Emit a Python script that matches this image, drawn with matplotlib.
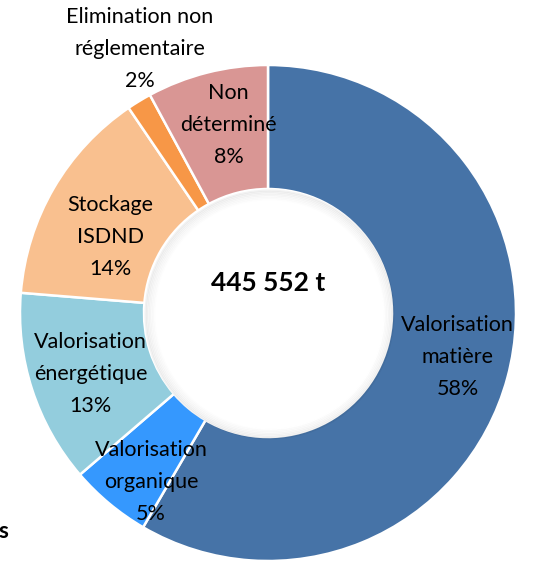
import matplotlib.pyplot as plt
import numpy as np

plt.rcParams['font.family'] = ['Lato', 'DejaVu Sans']

categories = ['Valorisation\nmatière', 'Valorisation\norganique', 'Valorisation\nénergétique',
              'Stockage\nISDND', 'Elimination non\nréglementaire', 'Non\ndéterminé']
shares = [58.4, 5.3, 12.6, 14.2, 1.6, 7.9]
colors = ['#4673A7', '#3598FE', '#93CDDD', '#F9C08F', '#F79747', '#D99694']
total_label = '445 552 t'

W, H = 533, 566
cx, cy, R = 268, 313, 248  # pixel centre / radius of the ring

fig = plt.figure(figsize=(W / 100, H / 100), dpi=100)
ax = fig.add_axes([0, 0, 1, 1])

wedges, _ = ax.pie(shares, colors=colors, startangle=90, counterclock=False,
                   radius=1, wedgeprops=dict(width=0.5, edgecolor='white', linewidth=1.8))
# pie() resets the limits, so set them afterwards
ax.set_xlim(-cx / R, (W - cx) / R)
ax.set_ylim(-(H - cy) / R, cy / R)
ax.set_aspect('equal')
ax.axis('off')

# soft shadow inside the hole
for i, a in enumerate(np.linspace(0.10, 0.0, 8)):
    ax.add_patch(plt.Circle((0.006, -0.006), 0.5 - i * 0.006, fill=False,
                            edgecolor='black', alpha=a * 0.5, linewidth=1.5, zorder=3))
ax.add_patch(plt.Circle((0.012, -0.012), 0.455, color='white', zorder=4))

# label offsets in axis units, relative to the ring mid-angle position
offsets = [(0.04, 0.02), (0.008, -0.105), (-0.002, -0.015), (0.012, -0.07), (0.0, 0.0), (0.025, 0.03)]
cum = np.cumsum([0] + shares[:-1])
for i, (lab, v) in enumerate(zip(categories, shares)):
    mid = np.deg2rad(90 - (cum[i] + v / 2) * 3.6)
    text = f'{lab}\n{v:.0f}%'
    if i == 4:
        x, y = (140 - cx) / R, (cy - 49) / R
    else:
        x = 0.75 * np.cos(mid) + offsets[i][0]
        y = 0.75 * np.sin(mid) + offsets[i][1]
    ax.text(x, y, text, ha='center', va='center', fontsize=15.5,
            linespacing=1.75, color='black', zorder=5)

ax.text(0, (cy - 283) / R, total_label, ha='center', va='center', fontsize=19,
        fontweight='bold', zorder=5)
ax.text(-cx / R - 0.005, (cy - 531) / R, 's', ha='left', va='center', fontsize=16,
        fontweight='bold')

fig.savefig('out.png', dpi=100)
